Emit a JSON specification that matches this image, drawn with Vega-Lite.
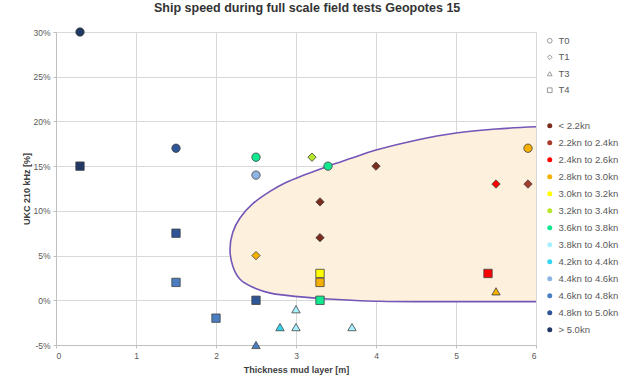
{
  "$schema": "https://vega.github.io/schema/vega-lite/v6.json",
  "autosize": "none",
  "width": 480,
  "height": 313,
  "padding": {"left": 56, "top": 32, "right": 89, "bottom": 33},
  "background": "white",
  "title": {"text": "Ship speed during full scale field tests Geopotes 15", "font": "Liberation Sans", "fontSize": 12.5, "fontWeight": "bold", "color": "#333333", "anchor": "start", "dx": 131, "offset": 12},
  "config": {
    "view": {"stroke": null},
    "font": "Liberation Sans",
    "axis": {"labelFont": "Liberation Sans", "labelFontSize": 8.5, "labelColor": "#595959", "titleFont": "Liberation Sans", "titleFontSize": 9, "titleFontWeight": "bold", "titleColor": "#404040", "gridColor": "#d9d9d9", "domainColor": "#bfbfbf", "tickColor": "#bfbfbf", "tickSize": 3, "labelPadding": 3}
  },
  "datasets": {
    "fill": [
      {"x": 2.175, "top": 5.7, "bot": 5.7},
      {"x": 2.19, "top": 6.9, "bot": 4.5},
      {"x": 2.21, "top": 7.6, "bot": 3.8},
      {"x": 2.25, "top": 8.4, "bot": 3.0},
      {"x": 2.3, "top": 9.2, "bot": 2.35},
      {"x": 2.46, "top": 10.8, "bot": 1.45},
      {"x": 2.68, "top": 12.2, "bot": 0.8},
      {"x": 2.88, "top": 13.2, "bot": 0.55},
      {"x": 3.1, "top": 14.0, "bot": 0.35},
      {"x": 3.4, "top": 15.0, "bot": 0.15},
      {"x": 3.7, "top": 15.9, "bot": 0.0},
      {"x": 4.0, "top": 16.8, "bot": -0.1},
      {"x": 4.5, "top": 17.9, "bot": -0.15},
      {"x": 5.0, "top": 18.7, "bot": -0.15},
      {"x": 5.5, "top": 19.15, "bot": -0.15},
      {"x": 6.0, "top": 19.4, "bot": -0.15}
    ],
    "outline": [
      {"o": 1, "x": 6.0, "y": 19.4},
      {"o": 2, "x": 5.5, "y": 19.15},
      {"o": 3, "x": 5.0, "y": 18.7},
      {"o": 4, "x": 4.5, "y": 17.9},
      {"o": 5, "x": 4.0, "y": 16.8},
      {"o": 6, "x": 3.7, "y": 15.9},
      {"o": 7, "x": 3.4, "y": 15.0},
      {"o": 8, "x": 3.1, "y": 14.0},
      {"o": 9, "x": 2.88, "y": 13.2},
      {"o": 10, "x": 2.68, "y": 12.2},
      {"o": 11, "x": 2.46, "y": 10.8},
      {"o": 12, "x": 2.3, "y": 9.2},
      {"o": 13, "x": 2.21, "y": 7.6},
      {"o": 14, "x": 2.175, "y": 5.7},
      {"o": 15, "x": 2.21, "y": 3.8},
      {"o": 16, "x": 2.3, "y": 2.35},
      {"o": 17, "x": 2.46, "y": 1.45},
      {"o": 18, "x": 2.68, "y": 0.8},
      {"o": 19, "x": 2.88, "y": 0.55},
      {"o": 20, "x": 3.1, "y": 0.35},
      {"o": 21, "x": 3.4, "y": 0.15},
      {"o": 22, "x": 3.7, "y": 0.0},
      {"o": 23, "x": 4.0, "y": -0.1},
      {"o": 24, "x": 4.5, "y": -0.15},
      {"o": 25, "x": 6.0, "y": -0.15}
    ],
    "points": [
      {"x": 0.3, "y": 30, "test": "T0", "speed": "> 5.0kn"},
      {"x": 0.3, "y": 15, "test": "T4", "speed": "> 5.0kn"},
      {"x": 1.5, "y": 17, "test": "T0", "speed": "4.8kn to 5.0kn"},
      {"x": 1.5, "y": 7.5, "test": "T4", "speed": "4.8kn to 5.0kn"},
      {"x": 1.5, "y": 2, "test": "T4", "speed": "4.6kn to 4.8kn"},
      {"x": 2.0, "y": -2, "test": "T4", "speed": "4.6kn to 4.8kn"},
      {"x": 2.5, "y": 16, "test": "T0", "speed": "3.6kn to 3.8kn"},
      {"x": 2.5, "y": 14, "test": "T0", "speed": "4.4kn to 4.6kn"},
      {"x": 2.5, "y": 5, "test": "T1", "speed": "2.8kn to 3.0kn"},
      {"x": 2.5, "y": 0, "test": "T4", "speed": "4.8kn to 5.0kn"},
      {"x": 2.5, "y": -5, "test": "T3", "speed": "4.6kn to 4.8kn"},
      {"x": 2.8, "y": -3, "test": "T3", "speed": "4.2kn to 4.4kn"},
      {"x": 3.0, "y": -1, "test": "T3", "speed": "3.8kn to 4.0kn"},
      {"x": 3.0, "y": -3, "test": "T3", "speed": "3.8kn to 4.0kn"},
      {"x": 3.7, "y": -3, "test": "T3", "speed": "3.8kn to 4.0kn"},
      {"x": 3.2, "y": 16, "test": "T1", "speed": "3.2kn to 3.4kn"},
      {"x": 3.4, "y": 15, "test": "T0", "speed": "3.6kn to 3.8kn"},
      {"x": 4.0, "y": 15, "test": "T1", "speed": "< 2.2kn"},
      {"x": 3.3, "y": 11, "test": "T1", "speed": "< 2.2kn"},
      {"x": 3.3, "y": 7, "test": "T1", "speed": "< 2.2kn"},
      {"x": 3.3, "y": 3, "test": "T4", "speed": "3.0kn to 3.2kn"},
      {"x": 3.3, "y": 2, "test": "T4", "speed": "2.8kn to 3.0kn"},
      {"x": 3.3, "y": 0, "test": "T4", "speed": "3.6kn to 3.8kn"},
      {"x": 5.5, "y": 13, "test": "T1", "speed": "2.4kn to 2.6kn"},
      {"x": 5.9, "y": 13, "test": "T1", "speed": "2.2kn to 2.4kn"},
      {"x": 5.9, "y": 17, "test": "T0", "speed": "2.8kn to 3.0kn"},
      {"x": 5.4, "y": 3, "test": "T4", "speed": "2.4kn to 2.6kn"},
      {"x": 5.5, "y": 1, "test": "T3", "speed": "2.8kn to 3.0kn"}
    ]
  },
  "layer": [
    {
      "data": {"name": "fill"},
      "mark": {"type": "area", "fill": "#FDF0DC", "opacity": 1, "interpolate": "monotone"},
      "encoding": {
        "x": {"field": "x", "type": "quantitative", "scale": {"domain": [0, 6], "nice": false, "zero": false},
          "axis": {"title": "Thickness mud layer [m]", "values": [0, 0.5, 1, 1.5, 2, 2.5, 3, 3.5, 4, 4.5, 5, 5.5, 6], "labelExpr": "datum.value % 1 === 0 ? format(datum.value, 'd') : ''", "titlePadding": 6}},
        "y": {"field": "top", "type": "quantitative", "scale": {"domain": [-5, 30], "nice": false, "zero": false},
          "axis": {"title": "UKC 210 kHz [%]", "values": [-5, 0, 5, 10, 15, 20, 25, 30], "labelExpr": "datum.value + '%'", "titlePadding": 1}},
        "y2": {"field": "bot"}
      }
    },
    {
      "data": {"name": "outline"},
      "mark": {"type": "line", "color": "#7456B8", "strokeWidth": 1.6, "interpolate": "cardinal"},
      "encoding": {
        "x": {"field": "x", "type": "quantitative"},
        "y": {"field": "y", "type": "quantitative"},
        "order": {"field": "o", "type": "quantitative"}
      }
    },
    {
      "data": {"name": "points"},
      "mark": {"type": "point", "filled": true, "size": 70, "stroke": "#404040", "strokeWidth": 0.8, "opacity": 1},
      "encoding": {
        "x": {"field": "x", "type": "quantitative"},
        "y": {"field": "y", "type": "quantitative"},
        "shape": {"field": "test", "type": "nominal",
          "scale": {"domain": ["T0", "T1", "T3", "T4"], "range": ["circle", "diamond", "triangle-up", "square"]},
          "legend": {"title": null, "orient": "none", "legendX": 489, "legendY": 4, "symbolSize": 22, "symbolFillColor": "white", "symbolStrokeColor": "#999999", "symbolStrokeWidth": 1, "labelFontSize": 9.5, "labelColor": "#595959", "labelFont": "Liberation Sans", "rowPadding": 5.5, "padding": 0}},
        "color": {"field": "speed", "type": "nominal",
          "scale": {"domain": ["< 2.2kn", "2.2kn to 2.4kn", "2.4kn to 2.6kn", "2.8kn to 3.0kn", "3.0kn to 3.2kn", "3.2kn to 3.4kn", "3.6kn to 3.8kn", "3.8kn to 4.0kn", "4.2kn to 4.4kn", "4.4kn to 4.6kn", "4.6kn to 4.8kn", "4.8kn to 5.0kn", "> 5.0kn"],
            "range": ["#7B2C1E", "#A83C2C", "#FF0000", "#F5B000", "#FFFF00", "#B8E62A", "#12E890", "#A8F0FF", "#33D6F0", "#8EB4E3", "#4A7EC0", "#2F5597", "#1F3864"]},
          "legend": {"title": null, "orient": "none", "legendX": 489, "legendY": 89, "symbolType": "circle", "symbolSize": 25, "symbolStrokeWidth": 0, "labelFontSize": 9.5, "labelColor": "#595959", "labelFont": "Liberation Sans", "rowPadding": 6, "padding": 0}}
      }
    }
  ]
}
